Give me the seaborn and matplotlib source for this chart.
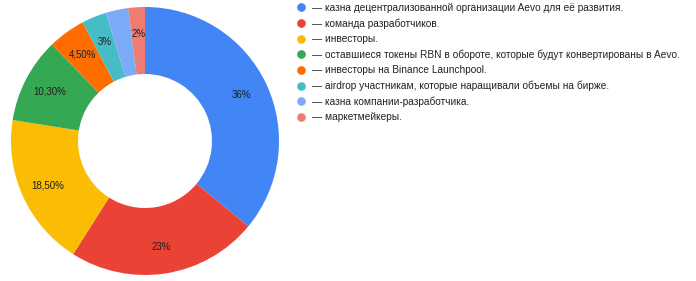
import matplotlib
matplotlib.use("Agg")
import matplotlib.pyplot as plt
from matplotlib.lines import Line2D
import numpy as np
import seaborn as sns

# Распределение токенов Aevo
categories = [
    "— казна децентрализованной организации Aevo для её развития.",
    "— команда разработчиков.",
    "— инвесторы.",
    "— оставшиеся токены RBN в обороте, которые будут конвертированы в Aevo.",
    "— инвесторы на Binance Launchpool.",
    "— airdrop участникам, которые наращивали объемы на бирже.",
    "— казна компании-разработчика.",
    "— маркетмейкеры.",
]
shares = [36, 23, 18.5, 10.3, 4.5, 3, 2.7, 2]
show_label = [True, True, True, True, True, True, False, True]
colors = ["#4285F4", "#EA4335", "#FBBC04", "#34A853",
          "#FF6D01", "#46BDC6", "#7BAAF7", "#F07B72"]

sns.set_style("white")
plt.rcParams["font.family"] = ["Liberation Sans", "DejaVu Sans"]

W, H = 696, 281
fig = plt.figure(figsize=(W / 100, H / 100), dpi=100)

cx, cy, r = 145, 141, 134
ax = fig.add_axes([(cx - r) / W, (H - cy - r) / H, 2 * r / W, 2 * r / H])
wedges, _ = ax.pie(shares, colors=colors, startangle=90, counterclock=False,
                   radius=1.0,
                   wedgeprops=dict(width=0.5, linewidth=0))
ax.set_xlim(-1, 1)
ax.set_ylim(-1, 1)
ax.set_aspect("equal")
ax.axis("off")


def fmt(v):
    if float(v).is_integer():
        return f"{int(v)}%"
    return f"{v:.2f}%".replace(".", ",")


for w, v, show in zip(wedges, shares, show_label):
    if not show:
        continue
    mid = np.deg2rad((w.theta1 + w.theta2) / 2)
    d = 0.8
    ax.text(d * np.cos(mid), d * np.sin(mid), fmt(v), ha="center", va="center",
            fontsize=7, color="#1f1f1f")

handles = [Line2D([0], [0], marker="o", linestyle="none", markersize=5.2,
                  markerfacecolor=c, markeredgecolor=c) for c in colors]
fig.legend(handles, categories, loc="upper left",
           bbox_to_anchor=(296 / W, 1 - 3 / H), frameon=False,
           fontsize=7.25, labelcolor="#222222", handlelength=1.0,
           handletextpad=0.6, labelspacing=0.53, borderaxespad=0.0,
           borderpad=0.0)

fig.savefig("out.png", dpi=100)
